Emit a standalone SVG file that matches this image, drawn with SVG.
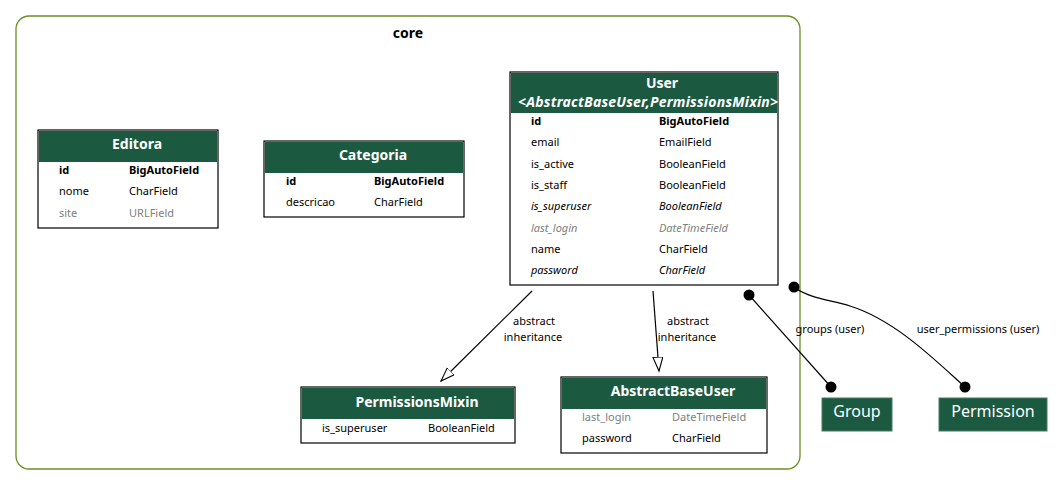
<svg xmlns="http://www.w3.org/2000/svg" width="1064" height="486" viewBox="0 0 1064 486">
<style>
text{font-family:"Noto Sans","Open Sans","DejaVu Sans",sans-serif;fill:#000}
.box{fill:#fff;stroke:#000;stroke-width:1.2}
.hdr{fill:#1b5940}
.title{font-size:14px;font-weight:bold;fill:#fff;text-anchor:middle}
.f{font-size:11px}
.b{font-weight:bold}
.i{font-style:italic}
.g{fill:#808080}
.lbl{font-size:11px;text-anchor:middle}
.edge{fill:none;stroke:#000;stroke-width:1.2}
.ext{fill:#1b5940;stroke:#4a7a62;stroke-width:1}
.extt{font-size:16px;fill:#fff;text-anchor:middle}
</style>
<defs>
<marker id="tri" markerUnits="userSpaceOnUse" markerWidth="16" markerHeight="12" refX="14" refY="5" orient="auto">
<path d="M0,0 L14,5 L0,10 z" fill="#fff" stroke="#000" stroke-width="1.1"/>
</marker>
</defs>
<rect width="1064" height="486" fill="#fff"/>
<g id="cluster-core">
<rect x="16" y="16" width="784" height="453" rx="13" fill="none" stroke="#6b8e23" stroke-width="1.3"/>
<text x="408" y="38" font-size="14" font-weight="bold" text-anchor="middle">core</text>
</g>
<g id="Editora">
<rect class="box" x="38" y="130" width="180" height="98"/>
<rect class="hdr" x="39" y="131" width="178" height="31"/>
<text class="title" x="137" y="149">Editora</text>
<text class="f b" x="59" y="174">id</text><text class="f b" x="129" y="174">BigAutoField</text>
<text class="f" x="59" y="195">nome</text><text class="f" x="129" y="195">CharField</text>
<text class="f g" x="59" y="217">site</text><text class="f g" x="129" y="217">URLField</text>
</g>
<g id="Categoria">
<rect class="box" x="264" y="141" width="200" height="76"/>
<rect class="hdr" x="265" y="142" width="198" height="31"/>
<text class="title" x="373" y="160">Categoria</text>
<text class="f b" x="286" y="185">id</text><text class="f b" x="374" y="185">BigAutoField</text>
<text class="f" x="286" y="206">descricao</text><text class="f" x="374" y="206">CharField</text>
</g>
<g id="User">
<rect class="box" x="510" y="72" width="268" height="213"/>
<rect class="hdr" x="511" y="73" width="266" height="40"/>
<text class="title" x="662" y="88">User</text>
<text class="title i" x="648" y="107" font-size="13" textLength="260">&lt;AbstractBaseUser,PermissionsMixin&gt;</text>
<text class="f b" x="531" y="125">id</text><text class="f b" x="659" y="125">BigAutoField</text>
<text class="f" x="531" y="146">email</text><text class="f" x="659" y="146">EmailField</text>
<text class="f" x="531" y="168">is_active</text><text class="f" x="659" y="168">BooleanField</text>
<text class="f" x="531" y="189">is_staff</text><text class="f" x="659" y="189">BooleanField</text>
<text class="f i" x="531" y="210">is_superuser</text><text class="f i" x="659" y="210">BooleanField</text>
<text class="f i g" x="531" y="232">last_login</text><text class="f i g" x="659" y="232">DateTimeField</text>
<text class="f" x="531" y="253">name</text><text class="f" x="659" y="253">CharField</text>
<text class="f i" x="531" y="274">password</text><text class="f i" x="659" y="274">CharField</text>
</g>
<g id="PermissionsMixin">
<rect class="box" x="301" y="387" width="214" height="56"/>
<rect class="hdr" x="302" y="388" width="212" height="31"/>
<text class="title" x="417" y="407">PermissionsMixin</text>
<text class="f" x="322" y="432">is_superuser</text><text class="f" x="428" y="432">BooleanField</text>
</g>
<g id="AbstractBaseUser">
<rect class="box" x="561" y="377" width="206" height="76"/>
<rect class="hdr" x="562" y="378" width="204" height="31"/>
<text class="title" x="673" y="396">AbstractBaseUser</text>
<text class="f g" x="582" y="421">last_login</text><text class="f g" x="672" y="421">DateTimeField</text>
<text class="f" x="582" y="442">password</text><text class="f" x="672" y="442">CharField</text>
</g>
<g id="Group">
<rect class="ext" x="822" y="398" width="70" height="33"/>
<text class="extt" x="857" y="417">Group</text>
</g>
<g id="Permission">
<rect class="ext" x="939" y="398" width="108" height="33"/>
<text class="extt" x="993" y="417">Permission</text>
</g>
<g id="connectors">
<path class="edge" d="M532,291 L441,381" marker-end="url(#tri)"/>
<text class="lbl" x="534" y="325">abstract</text>
<text class="lbl" x="533" y="341">inheritance</text>
<path class="edge" d="M653,291 L659,371" marker-end="url(#tri)"/>
<text class="lbl" x="688" y="325">abstract</text>
<text class="lbl" x="687" y="341">inheritance</text>
<path class="edge" d="M749,295 L831,387"/>
<circle cx="749" cy="295" r="5.5"/>
<circle cx="831" cy="387" r="5.5"/>
<text class="lbl" x="830" y="333">groups (user)</text>
<path class="edge" d="M794,287 C808,298 830,300 850,306 C895,320 935,360 965,387"/>
<circle cx="794" cy="287" r="5.5"/>
<circle cx="965" cy="387" r="5.5"/>
<text class="lbl" x="978" y="333">user_permissions (user)</text>
</g>
</svg>
